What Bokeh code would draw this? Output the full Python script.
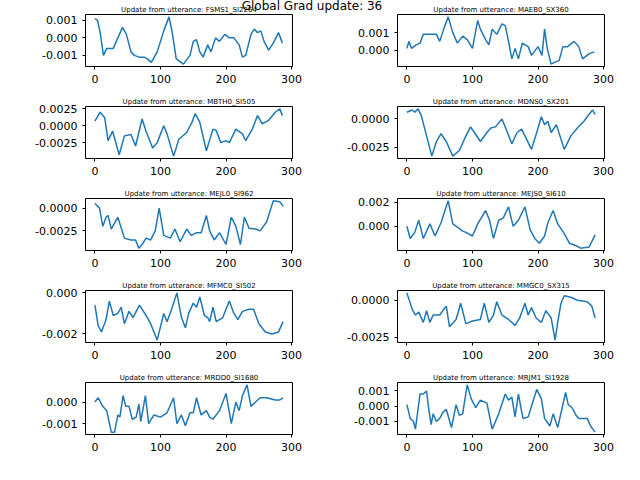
from bokeh.plotting import figure
from bokeh.layouts import gridplot, column
from bokeh.models import FixedTicker, PrintfTickFormatter, Range1d, Div
from bokeh.embed import file_html
from bokeh.resources import INLINE

titles = ["FSMS1_SI2264", "MAEB0_SX360", "MBTH0_SI505", "MDNS0_SX201", "MEJL0_SI962",
          "MEJS0_SI610", "MFMC0_SI502", "MMGC0_SX315", "MRDD0_SI1680", "MRJM1_SI1928"]

x1 = [0,4,8,13,18,28,35,42,48,55,60,68,75,80,86,95,105,113,118,124,135,145,150,155,160,165,172,177,184,190,198,205,212,220,225,230,238,243,248,253,258,265,272,280,286]
y1 = [0.0011,0.001,0.0003,-0.001,-0.0006,-0.0006,0.0,0.0006,0.0002,-0.0008,-0.001,-0.0011,-0.0011,-0.0012,-0.0014,-0.0008,0.0004,0.0012,0.0003,-0.0012,-0.0015,-0.001,-0.0002,-0.0001,-0.0008,-0.0011,-0.0004,-0.0008,0.0,-0.0002,0.0002,0.0,0.0,-0.0004,-0.0011,-0.001,0.0002,0.0005,0.0003,0.0004,-0.0002,-0.0007,-0.0003,0.0003,-0.0003]
x2 = [0,3,7,14,20,25,35,45,50,57,63,70,77,85,92,100,108,112,120,125,130,137,145,150,155,160,165,170,176,185,190,200,206,210,214,220,225,232,238,245,255,262,268,278,286]
y2 = [0.0001,0.0005,0.0001,0.0003,0.0004,0.0009,0.0009,0.0009,0.0005,0.0013,0.0019,0.001,0.0004,0.0008,0.0006,0.0001,0.0017,0.0012,0.0006,0.0003,0.0012,0.0009,0.0015,0.0014,0.0005,-0.0005,0.0001,-0.0005,0.0004,0.0002,-0.0003,0.0002,-0.0003,0.0012,0.0001,-0.0008,-0.0007,-0.0006,0.0002,0.0002,0.0005,0.0002,-0.0005,-0.0002,-0.0001]
x3 = [0,8,15,20,27,37,45,55,62,72,78,88,95,105,110,120,128,140,148,153,160,170,180,185,192,200,205,215,225,230,240,248,255,265,275,282,286]
y3 = [0.0007,0.002,0.0012,-0.0022,-0.0008,-0.0043,-0.0015,-0.0013,-0.003,0.001,-0.0008,-0.0033,-0.0025,0.0,-0.0012,-0.0045,-0.002,-0.001,0.0005,0.0018,0.0005,-0.0037,-0.0005,-0.0007,-0.0025,-0.0022,-0.0025,-0.0005,-0.0012,-0.0022,-0.0005,0.0015,0.0003,0.0008,0.002,0.0025,0.0015]
x4 = [0,8,12,17,22,30,38,45,52,60,70,80,90,97,103,112,122,128,135,145,152,160,168,175,180,190,198,205,210,215,220,228,240,250,260,270,275,283,287]
y4 = [0.0006,0.0008,0.0006,0.0009,0.0003,-0.0015,-0.0033,-0.002,-0.0013,-0.002,-0.0033,-0.0028,-0.0015,-0.0007,-0.0012,-0.002,-0.0012,-0.0008,-0.0007,0.0,-0.001,-0.0022,-0.0012,-0.0009,-0.0015,-0.0027,-0.0012,0.0002,-0.0005,-0.0002,-0.0012,-0.0005,-0.0027,-0.0015,-0.0008,-0.0002,0.0002,0.0008,0.0004]
x5 = [0,7,12,17,20,25,35,45,55,62,67,72,78,85,92,98,105,115,122,130,140,147,155,162,170,175,182,190,200,208,215,222,228,235,245,252,262,272,282,287]
y5 = [0.0005,0.0,-0.002,-0.001,-0.0008,-0.0023,-0.001,-0.0033,-0.0035,-0.0035,-0.0044,-0.004,-0.0033,-0.0035,-0.0025,0.0,-0.003,-0.0033,-0.0023,-0.0037,-0.0023,-0.003,-0.0027,-0.0027,-0.0008,-0.0025,-0.0035,-0.0027,-0.004,-0.001,-0.002,-0.004,-0.001,-0.0022,-0.0023,-0.0025,-0.0015,0.0008,0.0007,0.0002]
x6 = [0,5,12,18,25,35,43,52,58,63,70,78,85,90,100,108,120,126,132,140,147,155,162,170,180,188,195,202,210,215,223,230,240,248,258,265,278,287]
y6 = [0.0,-0.001,-0.0005,0.0005,-0.001,0.0002,-0.0008,0.0003,0.0013,0.0021,0.0002,-0.0001,-0.0004,-0.0005,-0.0008,0.0002,0.0013,0.0005,-0.001,0.0005,0.0007,0.0016,0.0,0.0005,0.0016,-0.0003,-0.001,-0.0014,-0.0008,0.0003,0.0013,0.0002,-0.0006,-0.0014,-0.0016,-0.0018,-0.0017,-0.0007]
x7 = [0,5,10,17,22,28,35,40,45,52,58,68,78,85,95,105,110,117,125,132,138,143,150,155,160,167,172,175,180,185,195,205,212,218,225,235,242,250,260,270,280,287]
y7 = [-0.0006,-0.0016,-0.0019,-0.0013,-0.0004,-0.0011,-0.001,-0.0007,-0.0015,-0.0009,-0.0012,-0.0006,-0.0011,-0.0015,-0.0023,-0.001,-0.0014,-0.0008,0.0,-0.0012,-0.0017,-0.001,-0.0005,-0.0007,-0.0002,-0.0011,-0.0012,-0.0014,-0.0007,-0.0014,-0.0012,-0.0004,-0.001,-0.0013,-0.0009,-0.0008,-0.0008,-0.0015,-0.0019,-0.002,-0.0019,-0.0014]
x8 = [0,8,13,18,25,30,35,40,50,60,65,75,82,90,100,112,118,125,132,137,145,155,165,172,180,185,190,197,205,212,220,226,230,235,240,250,260,275,282,287]
y8 = [0.0005,-0.0006,-0.001,-0.0008,-0.0015,-0.0007,-0.0015,-0.001,-0.001,-0.0004,-0.0018,-0.0013,-0.0002,-0.0016,-0.0014,-0.0013,-0.0002,-0.0015,-0.001,-0.0001,-0.001,-0.0013,-0.0017,-0.0012,-0.0002,-0.001,-0.0005,-0.0012,-0.0015,-0.0007,-0.0012,-0.0027,-0.0015,-0.0002,0.0003,0.0002,0.0,-0.0001,-0.0004,-0.0012]
x9 = [0,5,12,18,25,30,35,38,43,47,52,57,63,67,70,77,82,90,100,110,120,125,132,138,145,150,155,162,170,175,180,190,200,208,215,220,225,232,238,245,252,262,275,282,287]
y9 = [0.0,0.0002,-0.0002,-0.0004,-0.0014,-0.0014,-0.0006,-0.0007,0.0003,-0.0002,-0.0002,-0.0008,-0.0007,-0.0001,-0.0009,0.0003,-0.001,-0.0006,-0.0007,-0.0005,0.0002,-0.001,-0.0006,-0.0011,-0.0005,-0.0005,0.0002,-0.0006,-0.0004,-0.0007,-0.0008,-0.0004,0.0004,-0.001,0.0,-0.0004,0.0003,0.0008,-0.0002,0.0,0.0002,0.0002,0.0001,0.0001,0.0002]
x10 = [0,5,10,13,20,25,30,33,37,40,45,50,55,60,68,75,80,85,92,98,105,112,122,130,140,150,155,160,165,170,177,185,190,198,205,210,218,223,230,242,246,252,258,262,275,280,287]
y10 = [0.0001,-0.0008,-0.001,-0.0015,0.0008,0.0008,0.001,-0.0001,-0.0012,-0.0005,-0.001,-0.0008,-0.0004,-0.0002,-0.0014,0.0001,-0.0006,-0.0005,0.0014,0.0005,-0.0001,0.0004,0.0002,-0.0015,-0.0005,0.0008,0.0004,0.0006,-0.0007,0.0008,-0.0008,-0.0007,0.0,0.0011,0.0005,-0.0008,-0.0013,-0.0005,-0.0014,0.0009,0.0001,-0.0001,-0.0006,-0.0008,-0.0008,-0.0013,-0.0017]

xs = [x1, x2, x3, x4, x5, x6, x7, x8, x9, x10]
ys = [y1, y2, y3, y4, y5, y6, y7, y8, y9, y10]
yticks = [[-0.001, 0, 0.001], [-0.001, 0, 0.001], [-0.0025, 0, 0.0025], [-0.0025, 0],
          [-0.0025, 0], [0, 0.002], [-0.002, 0], [-0.0025, 0], [-0.001, 0], [-0.001, 0, 0.001]]
yfmt = ["%.3f", "%.3f", "%.4f", "%.4f", "%.4f", "%.3f", "%.3f", "%.4f", "%.3f", "%.3f"]

figs = []
for i in range(10):
    lo, hi = min(ys[i]), max(ys[i])
    pad = (hi - lo) * 0.05
    p = figure(width=312, height=92, output_backend="svg", toolbar_location=None,
               x_range=Range1d(-14.35, 301.35), y_range=Range1d(lo - pad, hi + pad),
               min_border_left=85, min_border_right=20, min_border_top=14, min_border_bottom=26,
               title="Update from utterance: " + titles[i])
    p.title.text_font = "DejaVu Sans"
    p.title.text_font_size = "7px"
    p.title.text_font_style = "normal"
    p.title.text_color = "black"
    p.title.align = "center"
    p.title.standoff = 2
    p.line(xs[i], ys[i], line_color="#1f77b4", line_width=1.5)
    p.xgrid.visible = False
    p.ygrid.visible = False
    p.outline_line_color = "black"
    p.xaxis.ticker = FixedTicker(ticks=[0, 100, 200, 300])
    p.yaxis.ticker = FixedTicker(ticks=yticks[i])
    p.yaxis.formatter = PrintfTickFormatter(format=yfmt[i])
    for ax in (p.xaxis[0], p.yaxis[0]):
        ax.major_label_text_font = "DejaVu Sans"
        ax.major_label_text_font_size = "11px"
        ax.major_label_text_color = "black"
        ax.axis_line_color = None
        ax.minor_tick_line_color = None
        ax.major_tick_in = 0
        ax.major_tick_out = 3
        ax.major_tick_line_color = "black"
    figs.append(p)

grid = gridplot(figs, ncols=2, toolbar_location=None)
head = Div(text="Global Grad update: 36", width=624, height=0,
           styles={"text-align": "center", "font-family": "DejaVu Sans", "font-size": "12px",
                   "z-index": "5", "position": "relative", "overflow": "visible",
                   "line-height": "12px"},
           margin=(0, 0, 0, 0))
layout = column(head, grid, spacing=0)
open("out.html", "w").write(file_html(layout, INLINE))
